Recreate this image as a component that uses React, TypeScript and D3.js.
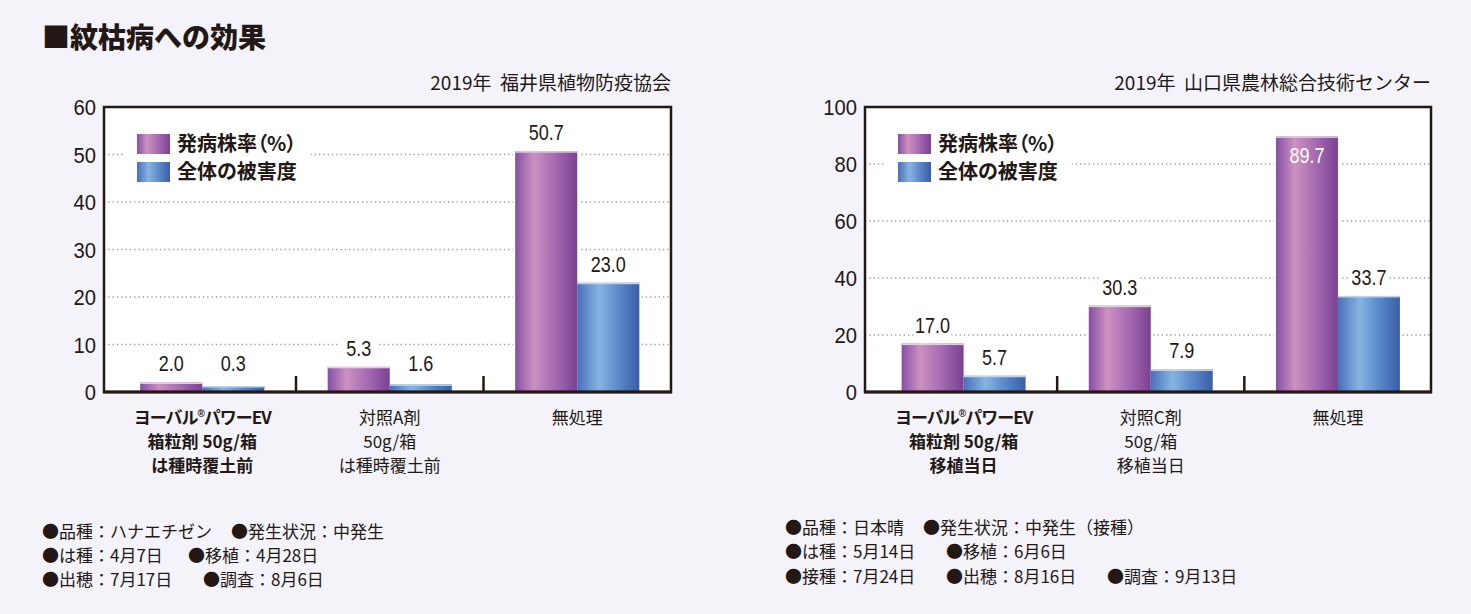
import { scaleBand, scaleLinear } from 'd3';

const INK = '#231815';
const JP = '"Noto Sans CJK JP", "Noto Sans", sans-serif';
const NUM = '"Liberation Sans", Arial, sans-serif';

const title = '■紋枯病への効果';
const seriesNames = ['発病株率（%）', '全体の被害度'];
const seriesKeys = ['incidence', 'damage'];

// 福井県植物防疫協会
const fukuiSource = '2019年  福井県植物防疫協会';
const fukuiCategories = ['ヨーバル', '対照A剤', '無処理'];
const fukuiLabels = [
  ['ヨーバル|パワーEV', '箱粒剤 50g/箱', 'は種時覆土前'],
  ['対照A剤', '50g/箱', 'は種時覆土前'],
  ['無処理'],
];
const fukuiIncidence = [2.0, 5.3, 50.7];
const fukuiDamage = [0.3, 1.6, 23.0];
const fukuiTicks = [0, 10, 20, 30, 40, 50, 60];
const fukuiNotes = [
  ['●品種：ハナエチゼン', '●発生状況：中発生'],
  ['●は種：4月7日', '●移植：4月28日'],
  ['●出穂：7月17日', '●調査：8月6日'],
];

// 山口県農林総合技術センター
const yamaguchiSource = '2019年  山口県農林総合技術センター';
const yamaguchiCategories = ['ヨーバル', '対照C剤', '無処理'];
const yamaguchiLabels = [
  ['ヨーバル|パワーEV', '箱粒剤 50g/箱', '移植当日'],
  ['対照C剤', '50g/箱', '移植当日'],
  ['無処理'],
];
const yamaguchiIncidence = [17.0, 30.3, 89.7];
const yamaguchiDamage = [5.7, 7.9, 33.7];
const yamaguchiTicks = [0, 20, 40, 60, 80, 100];
const yamaguchiNotes = [
  ['●品種：日本晴', '●発生状況：中発生（接種）'],
  ['●は種：5月14日', '●移植：6月6日'],
  ['●接種：7月24日', '●出穂：8月16日', '●調査：9月13日'],
];

interface ChartProps {
  frameLeft: number;
  frameRight: number;
  bandStart: number;
  bandEnd: number;
  source: string;
  categories: string[];
  labels: string[][];
  incidence: number[];
  damage: number[];
  ticks: number[];
  notes: string[][];
  notesX: number[][];
  notesY: number[];
}

const TOP = 107;
const BOTTOM = 392;
const MIN_BAR = 6; // tiny bars still show above the thick axis line

const Num = ({ x, y, text, size, fill = INK, anchor = 'middle', sx = 0.82 }: any) => (
  <text
    transform={`translate(${x},${y}) scale(${sx},1)`}
    textAnchor={anchor}
    fontFamily={NUM}
    fontSize={size}
    fill={fill}
  >
    {text}
  </text>
);

const CategoryLine = ({ x, y, text, bold }: any) => {
  const parts = text.split('|');
  return (
    <text
      x={x}
      y={y}
      textAnchor="middle"
      fontFamily={JP}
      fontSize={17}
      fontWeight={bold ? 700 : 400}
      fill={INK}
      letterSpacing={parts.length > 1 ? -1 : 0}
    >
      {parts.length > 1 ? (
        <>
          {parts[0]}
          <tspan fontFamily={NUM} fontSize={10} dy={-7}>®</tspan>
          <tspan dy={7}>{parts[1]}</tspan>
        </>
      ) : (
        text
      )}
    </text>
  );
};

const Chart = (p: ChartProps) => {
  const max = p.ticks[p.ticks.length - 1];
  const y = scaleLinear().domain([0, max]).range([BOTTOM, TOP]);
  const x0 = scaleBand().domain(p.categories).range([p.bandStart, p.bandEnd]);
  const x1 = scaleBand().domain(seriesKeys).range([0, x0.bandwidth()]).paddingOuter(0.51);
  const rows = p.categories.map((c, i) => ({ c, values: [p.incidence[i], p.damage[i]] }));
  const fills = ['url(#gPurple)', 'url(#gBlue)'];
  const tops = ['#e5cbe3', '#bcd4ef'];
  const barTop = (v: number) => Math.min(y(v), BOTTOM - MIN_BAR);

  return (
    <g>
      <text
        x={p.frameRight}
        y={90}
        textAnchor="end"
        fontFamily={JP}
        fontSize={19}
        fill={INK}
        style={{ whiteSpace: 'pre' }}
      >
        {p.source}
      </text>
      <rect x={p.frameLeft} y={TOP} width={p.frameRight - p.frameLeft} height={BOTTOM - TOP} fill="#fff" />
      {p.ticks
        .filter((t) => t > 0 && t < max)
        .map((t) => (
          <line
            key={t}
            x1={p.frameLeft}
            x2={p.frameRight}
            y1={y(t)}
            y2={y(t)}
            stroke="#9a9a9a"
            strokeWidth={1.3}
            strokeDasharray="1.3 3"
          />
        ))}
      {/* legend */}
      <rect x={p.frameLeft + 20} y={124} width={187} height={68} fill="#fff" />
      {seriesNames.map((s, i) => (
        <g key={s}>
          <rect x={p.frameLeft + 33} y={134 + i * 28} width={33} height={20} fill={fills[i]} />
          <text
            x={p.frameLeft + 73}
            y={151 + i * 28}
            fontFamily={JP}
            fontSize={20}
            fontWeight={700}
            fill={INK}
            style={{ fontFeatureSettings: '"palt"' }}
          >
            {s}
          </text>
        </g>
      ))}
      {rows.map((r) => (
        <g key={r.c} transform={`translate(${x0(r.c)},0)`}>
          {r.values.map((v, j) => (
            <rect
              key={`w${j}`}
              x={x1(seriesKeys[j])! - 2}
              y={barTop(v) - 2}
              width={x1.bandwidth() + 4}
              height={BOTTOM - barTop(v) + 2}
              fill="#fff"
            />
          ))}
          {r.values.map((v, j) => (
            <g key={`b${j}`}>
              <rect
                x={x1(seriesKeys[j])}
                y={barTop(v)}
                width={x1.bandwidth()}
                height={BOTTOM - barTop(v)}
                fill={fills[j]}
              />
              <rect x={x1(seriesKeys[j])} y={barTop(v)} width={x1.bandwidth()} height={1.5} fill={tops[j]} />
            </g>
          ))}
          {r.values.map((v, j) => {
            const cx = x1(seriesKeys[j])! + x1.bandwidth() / 2;
            const inside = y(v) - 36 < TOP;
            const ly = Math.min(barTop(v) - 11, 371);
            return inside ? (
              <Num key={`l${j}`} x={cx} y={y(v) + 27} text={v.toFixed(1)} size={22} fill="#fff" />
            ) : (
              <g key={`l${j}`}>
                <rect x={cx - 19} y={ly - 18} width={38} height={22} fill="#fff" />
                <Num x={cx} y={ly} text={v.toFixed(1)} size={22} />
              </g>
            );
          })}
        </g>
      ))}
      {p.categories.slice(1).map((c) => (
        <line key={c} x1={x0(c)} x2={x0(c)} y1={376} y2={BOTTOM} stroke={INK} strokeWidth={2.5} />
      ))}
      <rect
        x={p.frameLeft}
        y={TOP}
        width={p.frameRight - p.frameLeft}
        height={BOTTOM - TOP}
        fill="none"
        stroke={INK}
        strokeWidth={2.5}
      />
      <line x1={p.frameLeft - 1} x2={p.frameRight + 1} y1={BOTTOM} y2={BOTTOM} stroke={INK} strokeWidth={3.2} />
      {p.ticks.map((t) => (
        <Num key={t} x={p.frameLeft - 8} y={y(t) + 8} text={String(t)} size={22} anchor="end" sx={0.92} />
      ))}
      {rows.map((r, i) =>
        p.labels[i].map((line, k) => (
          <CategoryLine
            key={`${r.c}${k}`}
            x={x0(r.c)! + x0.bandwidth() / 2}
            y={424 + k * 24}
            text={line}
            bold={i === 0}
          />
        )),
      )}
      {p.notes.map((line, li) =>
        line.map((n, k) => (
          <text
            key={`${li}-${k}`}
            x={p.notesX[li][k]}
            y={p.notesY[li]}
            fontFamily={JP}
            fontSize={17}
            fill={INK}
          >
            {n}
          </text>
        )),
      )}
    </g>
  );
};

export default function App() {
  return (
    <svg width={1471} height={614} style={{ position: 'absolute', left: 0, top: 0 }}>
      <defs>
        <linearGradient id="gPurple" x1="0" x2="1" y1="0" y2="0">
          <stop offset="0" stopColor="#8650a3" />
          <stop offset="0.3" stopColor="#cc90c0" />
          <stop offset="0.62" stopColor="#a86db2" />
          <stop offset="1" stopColor="#7a4194" />
        </linearGradient>
        <linearGradient id="gBlue" x1="0" x2="1" y1="0" y2="0">
          <stop offset="0" stopColor="#4a6fb9" />
          <stop offset="0.35" stopColor="#86b4e1" />
          <stop offset="0.65" stopColor="#5c8bcb" />
          <stop offset="1" stopColor="#3a5ea8" />
        </linearGradient>
      </defs>
      <rect width={1471} height={614} fill="#f3f3f9" />
      <text x={42} y={48} fontFamily={JP} fontSize={28} fontWeight={900} fill={INK}>
        {title}
      </text>
      <Chart
        frameLeft={104}
        frameRight={671}
        bandStart={108.5}
        bandEnd={671}
        source={fukuiSource}
        categories={fukuiCategories}
        labels={fukuiLabels}
        incidence={fukuiIncidence}
        damage={fukuiDamage}
        ticks={fukuiTicks}
        notes={fukuiNotes}
        notesX={[
          [42, 231],
          [42, 188],
          [42, 203],
        ]}
        notesY={[538, 562, 586]}
      />
      <Chart
        frameLeft={865}
        frameRight={1431}
        bandStart={870}
        bandEnd={1431.5}
        source={yamaguchiSource}
        categories={yamaguchiCategories}
        labels={yamaguchiLabels}
        incidence={yamaguchiIncidence}
        damage={yamaguchiDamage}
        ticks={yamaguchiTicks}
        notes={yamaguchiNotes}
        notesX={[
          [785, 923],
          [785, 946],
          [785, 946, 1107],
        ]}
        notesY={[534, 558, 583]}
      />
    </svg>
  );
}
